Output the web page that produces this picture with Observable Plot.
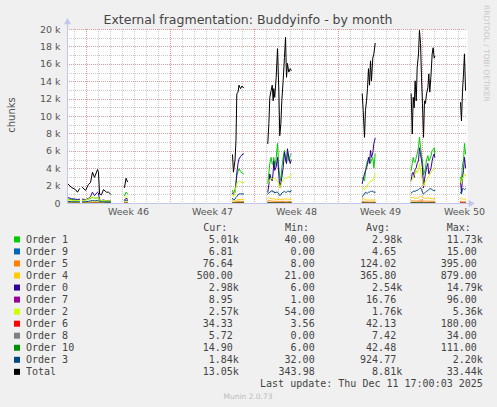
<!DOCTYPE html>
<html><head><meta charset="utf-8">
<script src="https://cdn.jsdelivr.net/npm/d3@7"></script>
<script src="https://cdn.jsdelivr.net/npm/@observablehq/plot@0.6"></script>
<style>
html,body{margin:0;padding:0;background:#f0f0f0;}
#wrap{position:relative;width:497px;height:407px;overflow:hidden;background:#f0f0f0;}
#chart{position:absolute;left:0;top:0;}
#overlay{position:absolute;left:0;top:0;pointer-events:none;}
</style></head>
<body><div id="wrap"><div id="chart"></div><svg id="overlay" width="497" height="407"></svg></div>
<script>
const _ = null;
// time in days from the left edge of the graph (null = no data / gap)
const t = [0,0.33,0.67,0.83,1.0,_,1.25,1.5,1.75,1.92,2.08,2.25,2.5,2.58,2.67,2.83,3.0,3.25,3.42,3.58,_,4.75,4.88,5.0,_,
13.75,13.83,13.96,14.04,14.11,14.21,14.29,14.42,14.54,14.67,_,
16.69,16.78,16.86,16.97,17.06,17.14,17.19,17.27,17.39,17.5,17.61,17.69,17.78,17.86,17.97,18.08,18.17,18.25,18.33,18.44,18.56,18.64,_,
24.56,24.64,24.75,24.83,24.92,25.0,25.08,25.17,25.25,25.33,25.44,25.53,25.64,_,
28.64,28.73,28.81,28.89,28.97,29.06,29.14,29.25,29.33,29.42,29.5,29.58,29.67,29.75,29.83,29.92,30.03,30.11,30.19,30.28,30.39,30.47,30.56,30.61,_,
32.75,32.83,32.92,33.0,33.08,33.17];

// values in thousands of chunks
const order1 = [0.5,0.45,0.4,0.4,0.45,_,0.4,0.4,0.5,0.6,0.7,0.6,0.65,0.6,0.3,0.3,0.3,0.25,0.25,0.25,_,0.9,1.3,1.1,_,
1.5,1.2,1.6,2.4,3.2,3.7,4.0,3.7,3.5,3.4,_,
2.3,3.5,4.6,5.3,4.5,4.6,5.3,4.2,5.2,6.9,4.0,3.2,2.6,4.1,5.3,6.1,5.2,4.6,6.1,4.9,5.5,5.7,_,
3.0,2.8,2.6,3.5,4.6,4.9,5.0,5.3,4.6,5.0,5.3,4.1,5.7,_,
3.8,4.6,5.3,4.8,4.7,5.3,5.7,6.5,7.6,6.5,5.5,4.9,3.3,3.6,4.1,5.0,5.5,4.9,5.1,5.4,6.1,6.2,6.4,5.7,_,
3.0,2.6,4.6,4.9,6.9,5.7];
const order9 = [0.003,0.003,0.002,0.002,0.002,_,0.002,0.002,0.003,0.003,0.004,0.003,0.004,0.004,0.002,0.002,0.002,0.002,0.002,0.002,_,0.003,0.004,0.004,_,
0.006,0.005,0.006,0.007,0.008,0.008,0.009,0.009,0.009,0.009,_,
0.010,0.012,0.011,0.010,0.010,0.009,0.009,0.009,0.009,0.009,0.008,0.008,0.008,0.009,0.009,0.009,0.009,0.009,0.009,0.009,0.008,0.008,_,
0.008,0.009,0.007,0.006,0.006,0.006,0.005,0.005,0.005,0.005,0.005,0.005,0.005,_,
0.010,0.010,0.010,0.009,0.009,0.009,0.010,0.011,0.015,0.014,0.012,0.011,0.009,0.009,0.009,0.009,0.009,0.008,0.008,0.008,0.008,0.007,0.007,0.007,_,
0.007,0.007,0.006,0.007,0.007,0.007];
const order5 = [0.06,0.05,0.05,0.04,0.05,_,0.05,0.05,0.06,0.07,0.08,0.07,0.08,0.07,0.05,0.04,0.04,0.04,0.04,0.04,_,0.06,0.08,0.07,_,
0.15,0.12,0.15,0.2,0.22,0.25,0.25,0.24,0.24,0.24,_,
0.3,0.32,0.3,0.28,0.28,0.26,0.27,0.25,0.25,0.25,0.23,0.22,0.24,0.24,0.25,0.25,0.24,0.24,0.24,0.24,0.23,0.23,_,
0.25,0.28,0.22,0.2,0.18,0.18,0.17,0.17,0.17,0.17,0.17,0.16,0.16,_,
0.3,0.3,0.3,0.28,0.27,0.27,0.28,0.3,0.38,0.39,0.36,0.33,0.28,0.27,0.27,0.27,0.28,0.27,0.26,0.26,0.25,0.25,0.25,0.25,_,
0.25,0.25,0.22,0.2,0.2,0.2];
const order4 = [0.15,0.15,0.12,0.12,0.12,_,0.12,0.12,0.15,0.2,0.2,0.18,0.2,0.2,0.12,0.1,0.1,0.1,0.1,0.1,_,0.15,0.2,0.18,_,
0.3,0.25,0.3,0.35,0.4,0.45,0.45,0.45,0.45,0.45,_,
0.6,0.65,0.6,0.55,0.55,0.5,0.55,0.5,0.5,0.5,0.45,0.45,0.5,0.5,0.5,0.5,0.5,0.5,0.5,0.5,0.5,0.5,_,
0.55,0.6,0.5,0.45,0.4,0.4,0.4,0.4,0.4,0.4,0.4,0.4,0.4,_,
0.7,0.7,0.7,0.65,0.6,0.6,0.6,0.65,0.8,0.85,0.8,0.75,0.6,0.6,0.6,0.6,0.65,0.6,0.6,0.6,0.55,0.55,0.55,0.55,_,
0.6,0.6,0.5,0.5,0.5,0.5];
const order0 = [0.7,0.55,0.5,0.45,0.5,_,0.5,0.45,0.6,0.8,1.3,0.9,1.3,1.2,0.4,0.35,0.4,0.3,0.3,0.3,_,0.4,0.6,0.5,_,
1.2,1.0,1.3,2.2,3.5,4.6,5.1,5.4,5.6,5.7,_,
1.3,2.2,3.4,2.8,2.6,3.6,4.9,3.8,4.2,5.3,3.4,1.8,2.4,3.0,4.1,5.9,5.0,4.6,6.3,5.3,4.6,5.0,_,
2.3,2.8,3.4,3.8,4.1,4.5,5.3,4.6,6.1,5.3,5.8,6.9,7.5,_,
2.6,3.5,3.6,3.0,3.9,4.1,4.6,4.9,6.4,5.6,5.0,4.1,1.8,2.8,3.4,4.1,4.6,3.4,3.7,4.0,4.9,5.4,5.7,5.3,_,
2.6,1.3,3.0,3.8,5.3,4.1];
const order7 = [0.01,0.01,0.01,0.01,0.01,_,0.01,0.01,0.01,0.01,0.02,0.01,0.02,0.02,0.01,0.01,0.01,0.01,0.01,0.01,_,0.01,0.02,0.01,_,
0.02,0.02,0.02,0.03,0.03,0.03,0.03,0.03,0.03,0.03,_,
0.04,0.05,0.04,0.04,0.04,0.03,0.03,0.03,0.03,0.03,0.03,0.03,0.03,0.03,0.03,0.03,0.03,0.03,0.03,0.03,0.03,0.03,_,
0.03,0.04,0.03,0.02,0.02,0.02,0.02,0.02,0.02,0.02,0.02,0.02,0.02,_,
0.05,0.05,0.05,0.04,0.04,0.04,0.05,0.06,0.09,0.08,0.07,0.06,0.04,0.04,0.04,0.04,0.04,0.03,0.03,0.03,0.03,0.03,0.03,0.03,_,
0.01,0.01,0.01,0.01,0.01,0.01];
const order2 = [0.45,0.35,0.3,0.3,0.35,_,0.35,0.4,0.55,0.7,0.75,0.6,0.7,0.65,0.4,0.35,0.35,0.3,0.3,0.3,_,0.6,0.8,0.7,_,
1.0,0.8,1.4,1.9,2.3,2.5,2.6,2.5,2.4,2.4,_,
2.3,2.5,2.7,2.9,2.8,2.9,3.0,2.8,2.7,2.6,2.3,1.8,2.1,2.4,2.6,2.9,3.0,2.9,3.0,3.0,3.2,3.4,_,
1.8,1.7,1.6,1.7,1.9,2.1,2.3,2.4,2.6,2.5,2.7,3.0,3.4,_,
2.6,2.8,3.0,3.3,3.6,3.8,3.5,3.9,4.6,3.8,3.1,2.6,2.0,2.3,2.5,2.7,3.0,3.2,3.4,3.5,3.8,3.9,4.0,4.1,_,
2.6,2.3,3.0,3.0,3.4,3.2];
const order6 = [0.02,0.02,0.02,0.02,0.02,_,0.02,0.02,0.02,0.03,0.03,0.03,0.03,0.03,0.02,0.02,0.02,0.02,0.02,0.02,_,0.02,0.03,0.03,_,
0.06,0.05,0.06,0.08,0.09,0.1,0.1,0.1,0.1,0.1,_,
0.12,0.13,0.12,0.11,0.11,0.1,0.1,0.1,0.1,0.1,0.09,0.09,0.1,0.1,0.1,0.1,0.1,0.1,0.1,0.1,0.1,0.1,_,
0.1,0.11,0.09,0.08,0.07,0.07,0.07,0.07,0.07,0.07,0.07,0.07,0.07,_,
0.12,0.12,0.12,0.11,0.11,0.11,0.12,0.13,0.17,0.18,0.16,0.14,0.11,0.11,0.11,0.11,0.11,0.11,0.1,0.1,0.1,0.1,0.1,0.1,_,
0.1,0.1,0.09,0.08,0.08,0.08];
const order8 = [0.005,0.005,0.004,0.004,0.004,_,0.004,0.004,0.005,0.005,0.006,0.005,0.006,0.006,0.004,0.003,0.003,0.003,0.003,0.003,_,0.004,0.005,0.005,_,
0.008,0.007,0.008,0.01,0.011,0.012,0.012,0.012,0.012,0.012,_,
0.015,0.016,0.015,0.014,0.014,0.013,0.013,0.012,0.012,0.012,0.011,0.011,0.012,0.012,0.012,0.012,0.012,0.012,0.012,0.012,0.011,0.011,_,
0.012,0.013,0.011,0.01,0.009,0.009,0.008,0.008,0.008,0.008,0.008,0.008,0.008,_,
0.018,0.018,0.018,0.017,0.016,0.016,0.017,0.02,0.034,0.03,0.025,0.021,0.016,0.016,0.016,0.016,0.015,0.014,0.014,0.013,0.013,0.012,0.012,0.012,_,
0.006,0.006,0.006,0.006,0.006,0.006];
const order10 = [0.03,0.03,0.03,0.03,0.03,_,0.03,0.03,0.03,0.03,0.04,0.03,0.04,0.04,0.03,0.02,0.02,0.02,0.02,0.02,_,0.03,0.04,0.04,_,
0.05,0.05,0.05,0.06,0.06,0.06,0.07,0.07,0.07,0.07,_,
0.08,0.09,0.08,0.08,0.07,0.07,0.07,0.07,0.07,0.07,0.06,0.06,0.06,0.06,0.07,0.07,0.07,0.07,0.07,0.07,0.07,0.07,_,
0.07,0.08,0.06,0.05,0.05,0.05,0.05,0.05,0.05,0.05,0.05,0.05,0.05,_,
0.09,0.09,0.09,0.08,0.08,0.08,0.09,0.1,0.11,0.11,0.1,0.09,0.08,0.08,0.08,0.08,0.08,0.07,0.07,0.07,0.07,0.07,0.07,0.07,_,
0.02,0.02,0.02,0.02,0.02,0.02];
const order3 = [0.25,0.2,0.2,0.2,0.2,_,0.2,0.2,0.25,0.3,0.35,0.3,0.35,0.3,0.2,0.2,0.2,0.15,0.15,0.15,_,0.3,0.4,0.35,_,
0.6,0.4,0.5,0.7,0.8,1.0,1.1,1.1,1.1,1.1,_,
1.1,1.2,1.3,1.4,1.5,1.3,1.4,1.2,1.3,1.3,1.1,0.9,1.0,1.2,1.3,1.4,1.3,1.3,1.4,1.4,1.3,1.5,_,
0.8,0.9,1.1,1.3,1.2,1.2,1.3,1.3,1.4,1.4,1.4,1.3,1.3,_,
1.2,1.3,1.4,1.4,1.4,1.5,1.5,1.6,1.7,1.8,1.6,1.3,1.1,1.2,1.3,1.4,1.5,1.6,1.7,1.7,1.6,1.5,1.5,1.5,_,
1.3,1.1,1.7,1.7,1.6,1.7];
const total = [2.3,1.85,1.6,1.3,1.7,_,1.85,1.5,2.2,2.4,3.6,3.0,3.9,3.6,1.1,1.0,1.6,1.3,1.3,1.1,_,1.85,2.9,2.5,_,
5.6,3.6,5.0,7.2,12.6,12.8,13.6,13.2,13.5,13.3,_,
6.9,9.2,12.2,13.0,13.6,11.8,13.2,12.2,14.5,17.8,13.0,7.8,9.2,11.8,14.1,16.8,19.1,14.5,16.1,15.1,15.5,15.3,_,
12.6,10.7,7.6,10.7,11.8,13.2,15.5,13.6,16.4,14.1,16.7,17.2,18.4,_,
12.6,8.0,12.2,11.0,14.1,11.8,15.6,17.2,19.9,18.4,14.5,11.5,7.6,11.8,11.5,12.6,13.3,14.9,12.8,14.5,17.2,17.9,16.7,16.9,_,
11.6,9.5,13.0,14.9,17.2,13.0];

const names  = ["Order 1","Order 9","Order 5","Order 4","Order 0","Order 7","Order 2","Order 6","Order 8","Order 10","Order 3","Total"];
const colors = ["#00CC00","#0066B3","#FF8000","#FFCC00","#330099","#990099","#CCFF00","#FF0000","#808080","#008F00","#00487D","#000000"];
const curVals = ["5.01k","6.81","76.64","500.00","2.98k","8.95","2.57k","34.33","5.72","14.90","1.84k","13.05k"];
const minVals = ["40.00","0.00","8.00","21.00","6.00","1.00","54.00","3.56","0.00","6.00","32.00","343.98"];
const avgVals = ["2.98k","4.65","124.02","365.80","2.54k","16.76","1.76k","42.13","7.42","42.48","924.77","8.81k"];
const maxVals = ["11.73k","15.00","395.00","879.00","14.79k","96.00","5.36k","180.00","34.00","111.00","2.20k","33.44k"];

const yTicks = [0,2,4,6,8,10,12,14,16,18,20];
const yMinor = [1,3,5,7,9,11,13,15,17,19];
const weekStarts = [1.583,8.583,15.583,22.583,29.583];
const weekCenters = [5.083,12.083,19.083,26.083,33.083];
const weekLabels = ["Week 46","Week 47","Week 48","Week 49","Week 50"];
const xMax = 400/12;

const seriesData = [order1,order9,order5,order4,order0,order7,order2,order6,order8,order10,order3,total];
const dayLines = d3.range(0.583, xMax, 1).filter(d => !weekStarts.some(w => Math.abs(w - d) < 0.01));

const lineMarks = seriesData.map((vals, k) =>
  Plot.line(t.map((d, i) => ({t: d, v: vals[i]})), {x: "t", y: "v", stroke: colors[k], strokeWidth: 1, curve: "linear"})
);

const axisCol = "#c2c6ec";
const gridGray = "#cacaca";
const gridRed = "#e89a9a";
const g = {strokeOpacity: 1, strokeWidth: 1, strokeDasharray: "1,1", shapeRendering: "crispEdges"};
const chart = Plot.plot({
  width: 497, height: 222,
  marginLeft: 67, marginRight: 30, marginTop: 29, marginBottom: 19,
  style: {background: "#f0f0f0", fontFamily: "'DejaVu Sans', sans-serif", fontSize: "9.5px", color: "#555"},
  x: {domain: [0, xMax], axis: null},
  y: {domain: [0, 20], axis: null},
  marks: [
    Plot.frame({fill: "white", stroke: null}),
    Plot.gridY(yMinor, {...g, stroke: gridGray}),
    Plot.gridX(dayLines, {...g, stroke: gridGray}),
    Plot.gridY(yTicks.filter(d => d > 0), {...g, stroke: gridRed}),
    Plot.gridX(weekStarts, {...g, stroke: gridRed}),
    ...lineMarks,
    Plot.ruleX([0], {y1: 0, y2: 20.75, stroke: axisCol, shapeRendering: "crispEdges"}),
    Plot.ruleY([0], {x1: 0, x2: xMax + 0.2, stroke: axisCol, shapeRendering: "crispEdges"}),
    Plot.dot([{x: 0, y: 20.85}], {x: "x", y: "y", symbol: "triangle", r: 2.6, fill: axisCol, stroke: null}),
    Plot.dot([{x: xMax + 0.27, y: 0}], {x: "x", y: "y", symbol: "triangle", rotate: 90, r: 2.6, fill: axisCol, stroke: null}),
    Plot.axisY(yTicks, {tickSize: 0, tickPadding: 7, label: null, tickFormat: d => d === 0 ? "0" : d + " k", fill: "#555"}),
    Plot.axisX(weekCenters, {tickSize: 0, tickPadding: 5, label: null, tickFormat: d => weekLabels[weekCenters.indexOf(d)], fill: "#555"})
  ]
});
document.getElementById("chart").appendChild(chart);

// title, axis label, legend
const ov = d3.select("#overlay");
ov.append("text").attr("x", 248).attr("y", 24).attr("text-anchor", "middle")
  .attr("font-family", "'DejaVu Sans', sans-serif").attr("font-size", 12.5).attr("fill", "#444")
  .text("External fragmentation: Buddyinfo - by month");
ov.append("text").attr("transform", "translate(15,115) rotate(-90)").attr("text-anchor", "middle")
  .attr("font-family", "'DejaVu Sans', sans-serif").attr("font-size", 10).attr("fill", "#555").text("chunks");
ov.append("text").attr("transform", "translate(484,5) rotate(90)").attr("text-anchor", "start")
  .attr("font-family", "'DejaVu Sans', sans-serif").attr("font-size", 7.5).attr("fill", "#c8c8c8").text("RRDTOOL / TOBI OETIKER");

const mono = "'DejaVu Sans Mono', monospace";
const cw = 6.02;
const headers = [["Cur:", 203.3], ["Min:", 285], ["Avg:", 366], ["Max:", 446.7]];
headers.forEach(([h, x]) => ov.append("text").attr("x", x).attr("y", 231.3)
  .attr("font-family", mono).attr("font-size", 10).attr("fill", "#444").text(h));
const colEnds = [238.8, 320.7, 402.2, 482.8];
names.forEach((n, i) => {
  const yb = 243 + 12.04 * i;
  ov.append("rect").attr("x", 14).attr("y", yb - 6.6).attr("width", 6).attr("height", 6).attr("fill", colors[i]);
  ov.append("text").attr("x", 26).attr("y", yb).attr("font-family", mono).attr("font-size", 10).attr("fill", "#444").text(n);
  [curVals[i], minVals[i], avgVals[i], maxVals[i]].forEach((v, c) => {
    const end = v.endsWith("k") ? colEnds[c] : colEnds[c] - cw;
    ov.append("text").attr("x", end).attr("y", yb).attr("text-anchor", "end")
      .attr("font-family", mono).attr("font-size", 10).attr("fill", "#444").text(v);
  });
});
ov.append("text").attr("x", 482.8).attr("y", 386.7).attr("text-anchor", "end")
  .attr("font-family", mono).attr("font-size", 10).attr("fill", "#444").text("Last update: Thu Dec 11 17:00:03 2025");
ov.append("text").attr("x", 248).attr("y", 398.7).attr("text-anchor", "middle")
  .attr("font-family", "'DejaVu Sans', sans-serif").attr("font-size", 7.5).attr("fill", "#bbb").text("Munin 2.0.73");
</script></body></html>
